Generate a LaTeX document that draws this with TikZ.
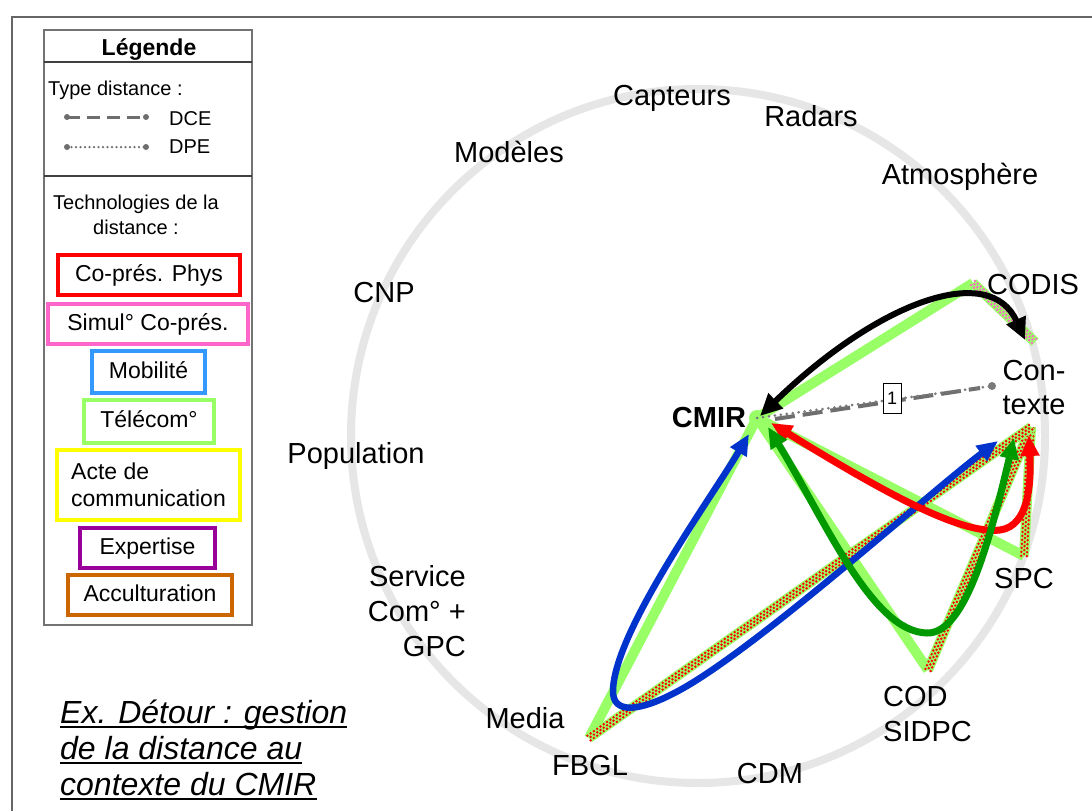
\documentclass[tikz,border=0pt]{standalone}
\usepackage{fontspec}
\setmainfont{Liberation Sans}
\usetikzlibrary{arrows.meta,calc}
\definecolor{lgreen}{HTML}{99FF66}
\definecolor{dgreen}{HTML}{009900}
\definecolor{ablue}{HTML}{0033CC}
\definecolor{bblue}{HTML}{3399FF}
\definecolor{pinkc}{HTML}{FF66CC}
\definecolor{purp}{HTML}{990099}
\definecolor{oran}{HTML}{CC6600}
\definecolor{ringc}{HTML}{E6E6E6}
\definecolor{yel}{HTML}{FFFF00}
\definecolor{dgray}{HTML}{6E6E6E}
\definecolor{mgray}{HTML}{7A7A7A}

\tikzset{
  lbl/.style={font=\fontsize{29}{34}\selectfont, inner sep=0pt, anchor=base},
  exlbl/.style={font=\itshape\fontsize{32}{36}\selectfont, inner sep=0pt, anchor=base west},
  lbox/.style={line width=4pt, fill=white, font=\fontsize{23}{27}\selectfont, inner sep=0pt, text height=16pt, text depth=4pt},
  ybox/.style={line width=4pt, fill=white, font=\fontsize{23}{27}\selectfont, inner sep=0pt, align=left},
  smalltxt/.style={font=\fontsize{20}{24}\selectfont, inner sep=0pt},
  tline/.style={line width=10pt, lgreen, line cap=butt},
  dotrow/.style={line width=2.7pt, line cap=round, dash pattern=on 0pt off 4pt},
  arrowline/.style={line width=6.5pt, {Triangle[length=21pt,width=18pt]}-{Triangle[length=21pt,width=18pt]}},
}

\newcommand{\chkline}[3]{%
  \fill[lgreen] ($(#1)!5pt!90:(#2)$) -- ($(#2)!5pt!-90:(#1)$) -- ($(#2)!5pt!90:(#1)$) -- ($(#1)!5pt!-90:(#2)$) -- cycle;
  \draw[dotrow, #3] ($(#1)!2.8pt!90:(#2)$) -- ($(#2)!2.8pt!-90:(#1)$);
  \draw[dotrow, #3, dash phase=2pt] (#1) -- (#2);
  \draw[dotrow, #3] ($(#1)!2.8pt!-90:(#2)$) -- ($(#2)!2.8pt!90:(#1)$);
}

\begin{document}
\begin{tikzpicture}[x=1pt,y=-1pt]
\useasboundingbox (0,0) rectangle (1092,811);
\fill[white] (0,0) rectangle (1092,811);

% frame
\draw[line width=2pt, black!60] (12,811) -- (12,17) -- (1092,17);

% ring
\draw[line width=8pt, ringc] (698,436) circle (347pt);

% key points
\coordinate (cmir) at (757,418);
\coordinate (codis) at (973,283);
\coordinate (ctxA) at (1035,342);
\coordinate (ctxB) at (1031,427);
\coordinate (spc) at (1024,556);
\coordinate (cod) at (928,670);
\coordinate (fbgl) at (589,738);
\coordinate (ctxdot) at (992,386);

% telecom lines
\draw[tline] (cmir) -- (codis);
\draw[tline] (cmir) -- (spc);
\draw[tline] (cmir) -- (cod);
\draw[tline] (cmir) -- (fbgl);
\chkline{codis}{ctxA}{pinkc}
\chkline{spc}{ctxB}{red}
\chkline{cod}{ctxB}{red}
\chkline{fbgl}{ctxB}{red}
\fill[lgreen] (cmir) circle (8pt);

% distance lines
\coordinate (dA) at (775,419);
\coordinate (dB) at (980,388);
\draw[line width=4pt, dgray, dash pattern=on 20pt off 8pt] (dA) -- (dB);
\draw[line width=3pt, mgray, line cap=round, dash pattern=on 0pt off 6pt] (cmir) -- (ctxdot);
\fill[mgray] (ctxdot) circle (4pt);
\node[draw=black, line width=0.8pt, fill=white, minimum width=18pt, minimum height=30pt, inner sep=0pt, font=\fontsize{18}{20}\selectfont] (one) at (892,398) {1};

% arrow end points
\coordinate (bkA) at (760,416);
\coordinate (bkB) at (1025,340);
\coordinate (rdA) at (771,423);
\coordinate (rdB) at (1029,435);
\coordinate (dgA) at (768,427);
\coordinate (dgB) at (1014,438);
\coordinate (blA) at (749,434);
\coordinate (blB) at (998,441);

% blue
\draw[arrowline, ablue] (blA) .. controls (712,497) and (615,630) .. (613,690)
  .. controls (612,715) and (640,712) .. (680,690)
  .. controls (760,646) and (930,492) .. (blB);
% red
\draw[arrowline, red, line width=7pt] (rdA) .. controls (880,490) and (960,535) .. (1000,530)
  .. controls (1030,526) and (1031,480) .. (rdB);
% dark green
\draw[arrowline, dgreen, line width=7pt] (dgA) .. controls (825,520) and (872,632) .. (927,633)
  .. controls (965,634) and (990,540) .. (dgB);
% black
\draw[line width=6pt, black, {Triangle[length=22pt,width=20pt]}-{Triangle[length=22pt,width=20pt]}] (bkA) .. controls (880,300) and (990,262) .. (bkB);

% labels
\node[lbl] (capteurs) at (672,105) {Capteurs};
\node[lbl] (radars) at (811,126) {Radars};
\node[lbl] (modeles) at (509,162) {Modèles};
\node[lbl] (atmo) at (960,184) {Atmosphère};
\node[lbl] (codisL) at (1033,294) {CODIS};
\node[lbl] (ctx1) at (1034,380) {Con-};
\node[lbl] (ctx2) at (1034,414) {texte};
\node[lbl] (cnp) at (384,302) {CNP};
\node[lbl, font=\bfseries\fontsize{29}{34}\selectfont] (cmirL) at (709,427) {CMIR};
\node[lbl] (pop) at (356,463) {Population};
\node[lbl, anchor=base east] (serv1) at (466,586) {Service};
\node[lbl, anchor=base east] (serv2) at (466,621) {Com° +};
\node[lbl, anchor=base east] (serv3) at (466,656) {GPC};
\node[lbl] (spcL) at (1024,588) {SPC};
\node[lbl, anchor=base west] (cod1) at (883,706) {COD};
\node[lbl, anchor=base west] (cod2) at (883,741) {SIDPC};
\node[lbl] (media) at (525,728) {Media};
\node[lbl] (fbglL) at (590,775) {FBGL};
\node[lbl] (cdm) at (770,783) {CDM};

% example text
\node[exlbl] (ex1) at (60,723) {Ex. Détour : gestion};
\node[exlbl] (ex2) at (60,759) {de la distance au};
\node[exlbl] (ex3) at (60,795) {contexte du CMIR};
\foreach \n in {ex1,ex2,ex3}
  \draw[line width=1.5pt] ([yshift=-4pt]\n.base west) -- ([yshift=-4pt]\n.base east);

% legend
\draw[line width=1.3pt, black!55] (44,30) rectangle (252,625);
\draw[line width=1.3pt, black!75] (44,62) -- (252,62);
\draw[line width=1.3pt, black!75] (44,176) -- (252,176);
\node[font=\bfseries\fontsize{23}{27}\selectfont, inner sep=0pt, anchor=base] (leg) at (149,55) {Légende};
\node[smalltxt, anchor=base west] (tdist) at (48,95) {Type distance :};
\coordinate (dceA) at (67,117);
\coordinate (dceB) at (146,117);
\draw[line width=3pt, dgray, dash pattern=on 13pt off 7pt] (dceA) -- (dceB);
\fill[dgray] (dceA) circle (3pt) (dceB) circle (3pt);
\node[smalltxt, anchor=base west] (dce) at (169,125) {DCE};
\coordinate (dpeA) at (67,147);
\coordinate (dpeB) at (146,147);
\draw[line width=2.5pt, dgray, line cap=round, dash pattern=on 0pt off 4.5pt] (dpeA) -- (dpeB);
\fill[dgray] (dpeA) circle (3pt) (dpeB) circle (3pt);
\node[smalltxt, anchor=base west] (dpe) at (169,153) {DPE};
\node[smalltxt, anchor=base] (tech1) at (136,209) {Technologies de la};
\node[smalltxt, anchor=base] (tech2) at (136,234) {distance :};

\node[lbox, draw=red, minimum width=182pt, minimum height=40pt] (bred) at (149,275) {Co-prés. Phys};
\node[lbox, draw=pinkc, minimum width=200pt, minimum height=40pt] (bpink) at (148,324) {Simul° Co-prés.};
\node[lbox, draw=bblue, minimum width=113pt, minimum height=42pt] (bblu) at (148.5,372) {Mobilité};
\node[lbox, draw=lgreen, minimum width=130pt, minimum height=43pt] (bgrn) at (149,421.5) {Télécom°};
\node[ybox, draw=yel, minimum width=183pt, minimum height=70pt] (byel) at (148.5,485) {Acte de\\communication};
\node[lbox, draw=purp, minimum width=135pt, minimum height=40pt] (bpur) at (147.5,548) {Expertise};
\node[lbox, draw=oran, minimum width=164pt, minimum height=40pt] (bora) at (150,595) {Acculturation};
\end{tikzpicture}
\end{document}
